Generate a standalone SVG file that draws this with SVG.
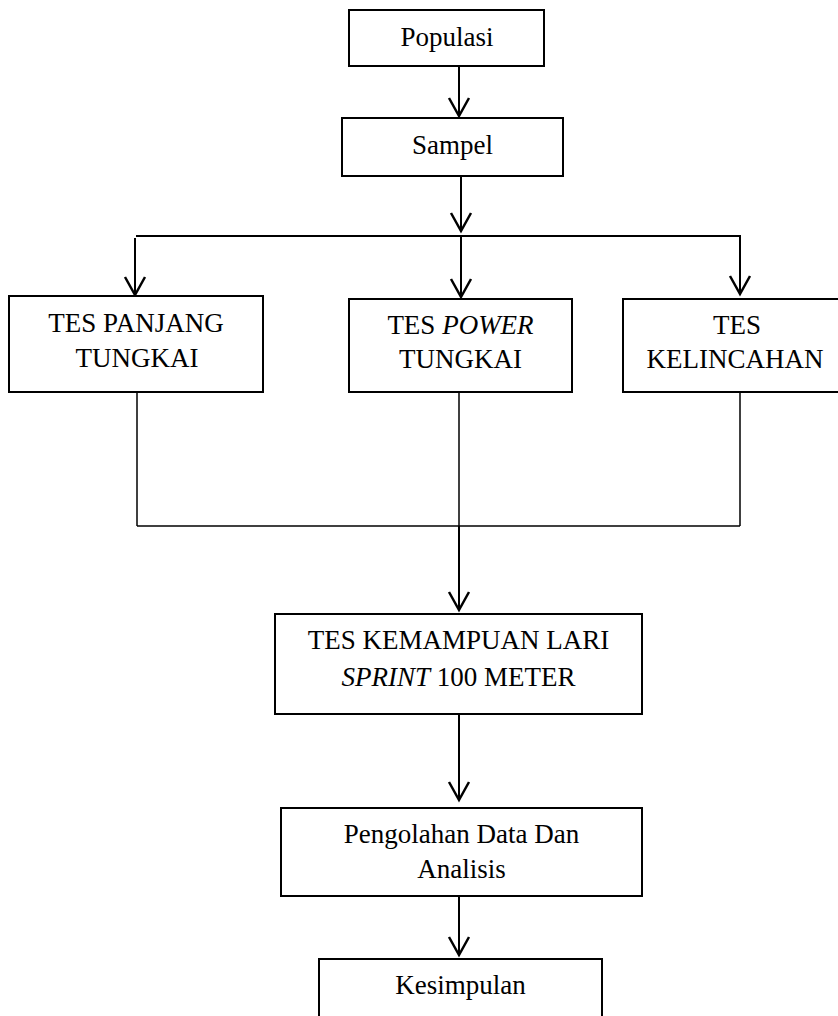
<svg xmlns="http://www.w3.org/2000/svg" width="838" height="1016" viewBox="0 0 838 1016">
<style>
.box{fill:#fff;stroke:#000;stroke-width:2}
.t{font-family:"Liberation Serif","Times New Roman",serif;font-size:27px;fill:#000;text-anchor:middle}
.i{font-style:italic}
.c{fill:none;stroke:#000;stroke-width:2}
.c2{fill:none;stroke:#000;stroke-width:1.5}
</style>
<defs>
<marker id="ah" markerUnits="userSpaceOnUse" markerWidth="40" markerHeight="40" refX="0" refY="0" orient="auto" overflow="visible">
<path d="M-18,-10 L0,0 L-18,10" fill="none" stroke="#000" stroke-width="2.5"/>
</marker>
</defs>
<rect width="838" height="1016" fill="#fff"/>
<g id="connectors">
<line class="c" x1="459" y1="66" x2="459" y2="116" marker-end="url(#ah)"/>
<line class="c" x1="461" y1="176" x2="461" y2="231" marker-end="url(#ah)"/>
<line class="c" x1="136" y1="236" x2="741" y2="236"/>
<line class="c" x1="135" y1="238" x2="135" y2="295" marker-end="url(#ah)"/>
<line class="c" x1="461" y1="236" x2="461" y2="297" marker-end="url(#ah)"/>
<line class="c" x1="740" y1="236" x2="740" y2="294" marker-end="url(#ah)"/>
<line class="c2" x1="137" y1="392" x2="137" y2="526"/>
<line class="c2" x1="459" y1="392" x2="459" y2="526"/>
<line class="c2" x1="740" y1="392" x2="740" y2="526"/>
<line class="c2" x1="137" y1="526" x2="740" y2="526"/>
<line class="c" x1="459" y1="526" x2="459" y2="610" marker-end="url(#ah)"/>
<line class="c" x1="459" y1="714" x2="459" y2="800" marker-end="url(#ah)"/>
<line class="c" x1="459" y1="896" x2="459" y2="955" marker-end="url(#ah)"/>
</g>
<g id="populasi">
<rect class="box" x="349" y="10" width="195" height="56"/>
<text class="t" x="447" y="46">Populasi</text>
</g>
<g id="sampel">
<rect class="box" x="342" y="118" width="221" height="58"/>
<text class="t" x="452.5" y="154">Sampel</text>
</g>
<g id="tes-panjang">
<rect class="box" x="9" y="296" width="254" height="96"/>
<text class="t" x="136" y="332">TES PANJANG</text>
<text class="t" x="137" y="367">TUNGKAI</text>
</g>
<g id="tes-power">
<rect class="box" x="349" y="299" width="223" height="93"/>
<text class="t" x="460.5" y="334">TES <tspan class="i">POWER</tspan></text>
<text class="t" x="460.5" y="368">TUNGKAI</text>
</g>
<g id="tes-kelincahan">
<rect class="box" x="623" y="299" width="224" height="93"/>
<text class="t" x="737" y="334">TES</text>
<text class="t" x="735" y="368">KELINCAHAN</text>
</g>
<g id="tes-sprint">
<rect class="box" x="275" y="614" width="367" height="100"/>
<text class="t" x="458.5" y="649">TES KEMAMPUAN LARI</text>
<text class="t" x="458.5" y="686"><tspan class="i">SPRINT</tspan> 100 METER</text>
</g>
<g id="pengolahan">
<rect class="box" x="281" y="808" width="361" height="88"/>
<text class="t" x="461.5" y="843">Pengolahan Data Dan</text>
<text class="t" x="461.5" y="878">Analisis</text>
</g>
<g id="kesimpulan">
<rect class="box" x="319" y="959" width="283" height="80"/>
<text class="t" x="460.5" y="994">Kesimpulan</text>
</g>
</svg>
